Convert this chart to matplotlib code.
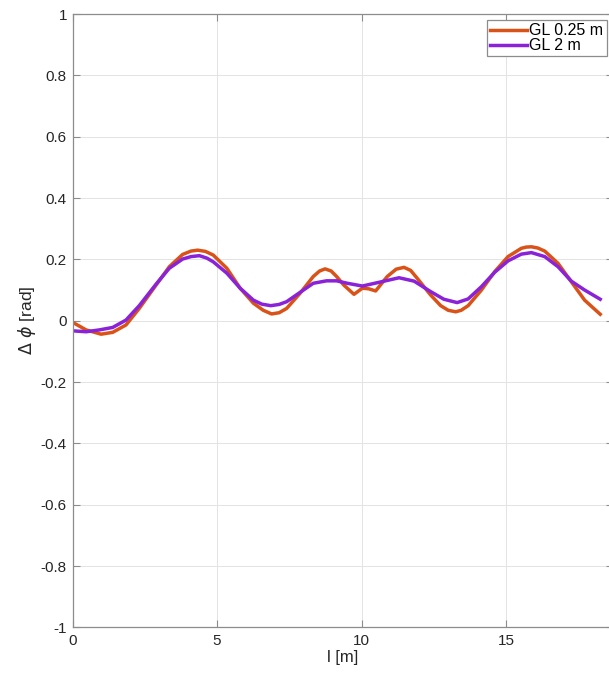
import matplotlib
matplotlib.use('Agg')
import matplotlib.pyplot as plt
from matplotlib.ticker import FuncFormatter

# GL 0.25 m
x_025 = [0.0, 0.47, 0.99, 1.39, 1.85, 2.31, 2.89, 3.35, 3.81, 4.10, 4.33, 4.60, 4.87, 5.34,
         5.80, 6.26, 6.60, 6.89, 7.15, 7.41, 7.87, 8.33, 8.55, 8.74, 8.95, 9.14, 9.39, 9.74,
         10.03, 10.25, 10.49, 10.89, 11.20, 11.47, 11.70, 11.93, 12.39, 12.74, 13.00, 13.26,
         13.45, 13.69, 14.15, 14.61, 15.07, 15.53, 15.70, 15.88, 16.10, 16.34, 16.80, 17.26,
         17.72, 18.26]
y_025 = [-0.005, -0.030, -0.044, -0.038, -0.014, 0.040, 0.116, 0.176, 0.216, 0.227, 0.230,
         0.226, 0.214, 0.171, 0.106, 0.057, 0.034, 0.022, 0.026, 0.040, 0.089, 0.144, 0.162,
         0.169, 0.162, 0.144, 0.116, 0.086, 0.106, 0.104, 0.097, 0.144, 0.168, 0.174, 0.164,
         0.138, 0.084, 0.049, 0.034, 0.029, 0.034, 0.049, 0.100, 0.160, 0.209, 0.236, 0.240,
         0.241, 0.237, 0.227, 0.187, 0.127, 0.067, 0.021]

# GL 2 m
x_2 = [0.0, 0.47, 0.93, 1.39, 1.85, 2.31, 2.89, 3.35, 3.81, 4.10, 4.39, 4.65, 4.87, 5.34,
       5.80, 6.26, 6.55, 6.86, 7.15, 7.41, 7.87, 8.33, 8.79, 9.14, 9.51, 10.03, 10.55, 11.30,
       11.82, 12.39, 12.85, 13.31, 13.69, 14.15, 14.61, 15.07, 15.53, 15.88, 16.34, 16.80,
       17.26, 17.72, 18.26]
y_2 = [-0.033, -0.036, -0.030, -0.022, 0.002, 0.049, 0.119, 0.171, 0.201, 0.209, 0.212,
       0.204, 0.192, 0.155, 0.106, 0.067, 0.054, 0.049, 0.053, 0.062, 0.092, 0.122, 0.130,
       0.130, 0.122, 0.113, 0.124, 0.140, 0.129, 0.095, 0.070, 0.059, 0.071, 0.111, 0.158,
       0.195, 0.217, 0.222, 0.209, 0.176, 0.129, 0.100, 0.070]

plt.rcParams['font.family'] = ['Liberation Sans', 'DejaVu Sans']
plt.rcParams['mathtext.fontset'] = 'dejavusans'

fig = plt.figure(figsize=(6.09, 6.75), dpi=100)
W, H = 609, 675
left, right, top, bottom = 72.5, 613.0, 14.0, 627.4
ax = fig.add_axes([left / W, 1 - bottom / H, (right - left) / W, (bottom - top) / H])

ax.plot(x_025, y_025, color='#D95319', lw=2.5, label='GL 0.25 m')
ax.plot(x_2, y_2, color='#8A22D8', lw=2.5, label='GL 2 m')

ax.set_xlim(0, (right - left) / 28.9)
ax.set_ylim(-1, 1)
ax.set_xticks([0, 5, 10, 15])
ax.set_yticks([-1, -0.8, -0.6, -0.4, -0.2, 0, 0.2, 0.4, 0.6, 0.8, 1])
ax.yaxis.set_major_formatter(FuncFormatter(lambda v, p: '%g' % round(v, 2)))

ax.grid(True, color='#E3E3E3', lw=0.7)
ax.set_axisbelow(True)
for s in ax.spines.values():
    s.set_color('#8C8C8C')
    s.set_linewidth(0.9)
ax.tick_params(direction='in', length=5, width=0.8, color='#8C8C8C',
               labelsize=11, labelcolor='#262626', top=True, right=True)
ax.tick_params(axis='x', pad=5)
ax.tick_params(axis='y', pad=4)

ax.set_xlabel('l [m]', fontsize=12, color='#262626', labelpad=1)
ax.set_ylabel(r'$\Delta\ \phi$ [rad]', fontsize=12.5, color='#262626', labelpad=2)

leg = ax.legend(loc='upper left', bbox_to_anchor=(487 / W, 1 - 20 / H),
                bbox_transform=fig.transFigure, fontsize=11.5, fancybox=False,
                edgecolor='#8C8C8C', framealpha=1, borderpad=0.2,
                handlelength=2.3, handletextpad=0.15, labelspacing=0.0,
                borderaxespad=0)
leg.get_frame().set_linewidth(0.9)

fig.savefig('out.png', dpi=100)
